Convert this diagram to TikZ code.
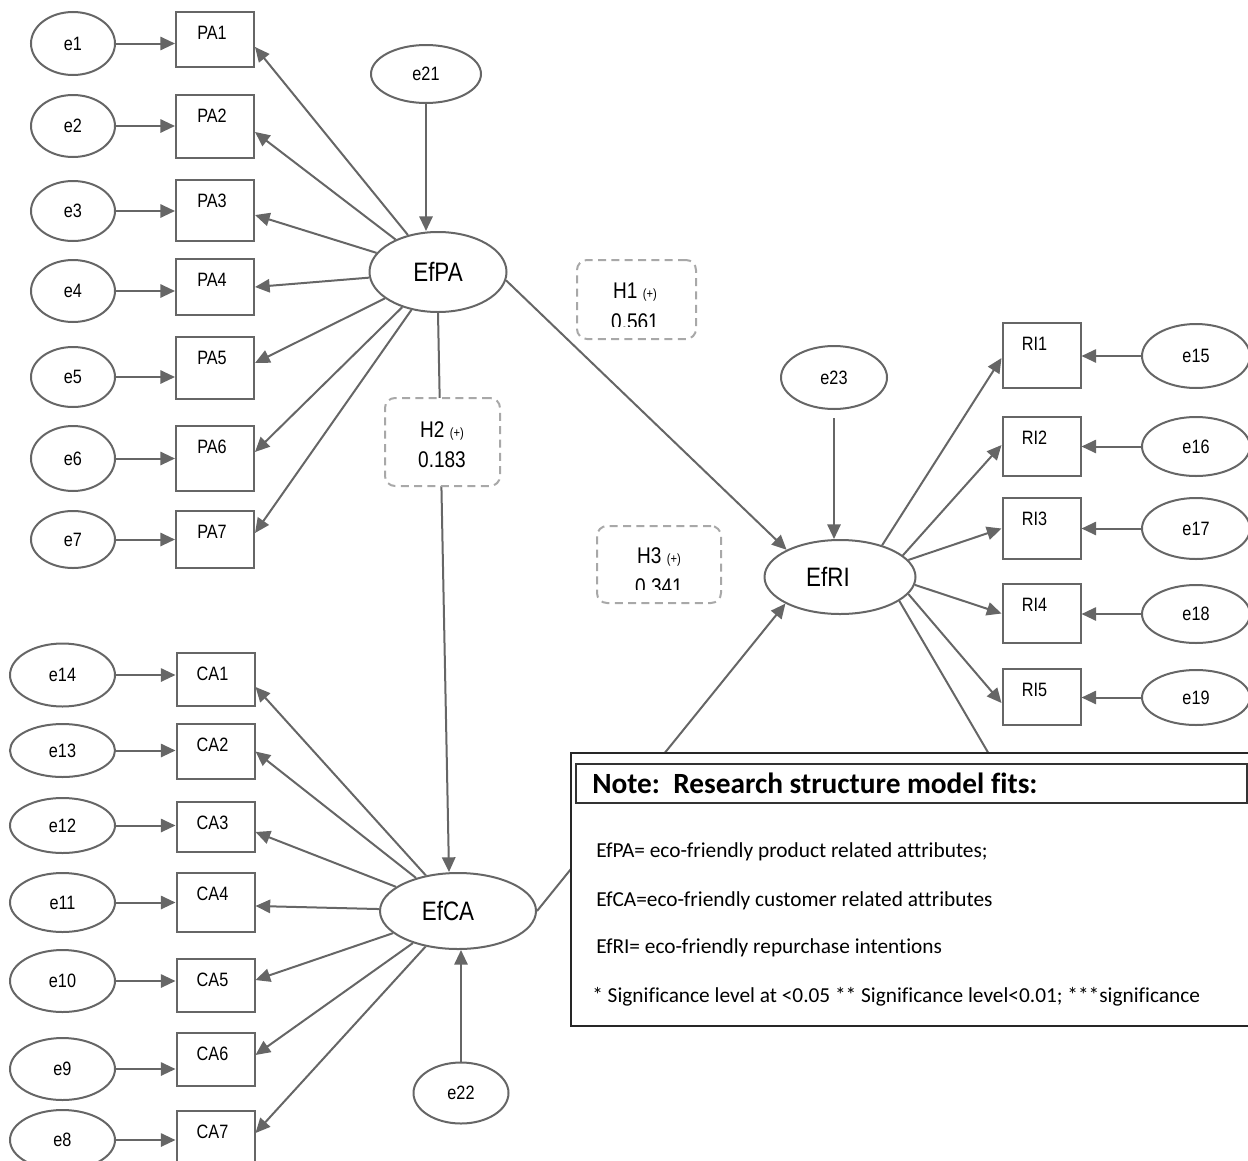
\documentclass[tikz,border=0pt]{standalone}
\usepackage{fontspec}
\setmainfont{Liberation Sans}
\newfontfamily\narrowfont[FakeStretch=0.84]{Liberation Sans}
\newfontfamily\notefont[Ligatures=CommonOff]{Carlito}
\usetikzlibrary{arrows.meta,shapes.geometric}
\definecolor{semgray}{HTML}{666666}
\definecolor{hypgray}{HTML}{A8A8A8}
\tikzset{
  itembox/.style={draw=semgray, line width=1.5pt, minimum width=58.5pt, inner sep=0pt},
  itemtext/.style={anchor=center, yshift=-16.5pt, xshift=-2.25pt, font=\narrowfont\fontsize{14.5}{16}\selectfont},
  errnode/.style={ellipse, draw=semgray, line width=1.5pt, inner sep=0pt, font=\narrowfont\fontsize{14.5}{16}\selectfont},
  latent/.style={ellipse, draw=semgray, line width=1.5pt, inner sep=0pt, font=\narrowfont\fontsize{20}{22}\selectfont},
  arr/.style={draw=semgray, line width=1.5pt, -{Triangle[length=11pt,width=10pt]}},
  plainline/.style={draw=semgray, line width=1.5pt},
  hypbox/.style={draw=hypgray, line width=1.5pt, dash pattern=on 6pt off 4pt, rounded corners=7.5pt, fill=white, inner sep=0pt},
  hyptext/.style={anchor=base, font=\narrowfont\fontsize{17}{19}\selectfont},
  notetext/.style={anchor=base west, inner sep=0pt, font=\notefont\fontsize{16}{18}\selectfont}
}
\begin{document}
\begin{tikzpicture}[x=0.75pt, y=-0.75pt]
\useasboundingbox (0,0) rectangle (1248,1160);

% constructs
\node[latent, minimum width=102.75pt, minimum height=60pt] (EfPA) at (438,272) {EfPA};
\node[latent, minimum width=117pt, minimum height=57pt] (EfCA) at (458,911) {EfCA\kern15pt};
\node[latent, minimum width=113.25pt, minimum height=55.5pt] (EfRI) at (840,577) {EfRI\kern18pt};

\node[errnode, minimum width=82.5pt, minimum height=43.5pt] (e21) at (426,74) {e21};
\node[errnode, minimum width=71.25pt, minimum height=45.75pt] (e22) at (461,1093) {e22};
\node[errnode, minimum width=79.5pt, minimum height=47.25pt] (e23) at (834,377.5) {e23};

% indicators
\foreach \i/\y/\h in {1/39.5/55, 2/126.5/63, 3/210.5/61, 4/287/56, 5/368/62, 6/458.5/65, 7/539.5/57}
  \node[itembox, minimum height=\h*0.75pt, label={[itemtext]north:PA\i}] (PA\i) at (215,\y) {};
\foreach \i/\y/\h in {1/43.5/63, 2/126/62, 3/211/60, 4/291/62, 5/377/60, 6/458.5/65, 7/539.5/57}
  \node[errnode, minimum width=63pt, minimum height=\h*0.75pt] (e\i) at (73,\y) {e\i};

\foreach \i/\y/\h in {1/679.5/53, 2/751.5/55, 3/827/50, 4/902.5/59, 5/985.5/53, 6/1059.5/53, 7/1138/54}
  \node[itembox, minimum height=\h*0.75pt, label={[itemtext]north:CA\i}] (CA\i) at (215.5,\y) {};
\foreach \n/\y/\h in {14/675/63, 13/750.5/53, 12/825.5/55, 11/902.5/59, 10/981/62, 9/1069/62, 8/1140/60}
  \node[errnode, minimum width=78.75pt, minimum height=\h*0.75pt] (e\n) at (62.5,\y) {e\n};

\foreach \i/\y/\h in {1/355.5/65, 2/446.5/59, 3/528.5/61, 4/613.5/59, 5/697/56}
  \node[itembox, minimum height=\h*0.75pt, label={[itemtext, xshift=-3pt]north:RI\i}] (RI\i) at (1041.5,\y) {};
\foreach \n/\y/\h in {15/356/64, 16/446.5/59, 17/528.5/61, 18/614/58, 19/697.5/55}
  \node[errnode, minimum width=81pt, minimum height=\h*0.75pt] (e\n) at (1196,\y) {e\n};

% error terms
\foreach \i in {1,...,7}
  \draw[arr] (e\i) -- (e\i -| PA\i.west);
\foreach \n/\i in {14/1, 13/2, 12/3, 11/4, 10/5, 9/6, 8/7}
  \draw[arr] (e\n) -- (e\n -| CA\i.west);
\foreach \n/\i in {15/1, 16/2, 17/3, 18/4, 19/5}
  \draw[arr] (e\n) -- (e\n -| RI\i.east);
\draw[arr] (e21) -- (e21 |- EfPA.north);
\draw[arr] (e22) -- (e22 |- EfCA.south);
\draw[arr, shorten <=6pt] (e23) -- (e23 |- EfRI.north);

% loadings
\foreach \i/\d in {1/-5.6pt, 2/-4.1pt, 3/-3.4pt, 4/0pt, 5/3.75pt, 6/4.9pt, 7/4.9pt}
  \draw[arr] (EfPA) -- ([yshift=\d]PA\i.east);
\foreach \i/\d in {1/-5.6pt, 2/0pt, 3/-3.75pt, 4/-2.6pt, 5/4.1pt, 6/3.4pt, 7/3.75pt}
  \draw[arr] (EfCA) -- ([yshift=\d]CA\i.east);
\foreach \i/\a/\d in {1/37/-1.9pt, 2/19/1.1pt, 3/14/0pt, 4/-6/0pt, 5/-14/-4.5pt}
  \draw[arr] (EfRI.\a) -- ([yshift=\d]RI\i.west);
\coordinate (RIhidden) at (1010,790);
\draw[plainline] (EfRI.-22) -- (RIhidden);

% structural paths
\draw[arr] (EfPA.south) -- ([xshift=-6.75pt]EfCA.north);
\draw[arr] (EfPA.-7) -- (EfRI.153);
\draw[arr] (EfCA.east) -- (EfRI.206);

% hypotheses
\node[hypbox, minimum width=89.25pt, minimum height=59.25pt] (H1) at (636.5,299.5) {};
\node[hypbox, minimum width=86.25pt, minimum height=66pt] (H2) at (442.5,442) {};
\node[hypbox, minimum width=93pt, minimum height=57.75pt] (H3) at (659,564.5) {};
\node[hyptext] (H1a) at (635,298) {H1 {\fontsize{10}{11}\selectfont(+)}};
\node[hyptext] (H2a) at (442,437) {H2 {\fontsize{10}{11}\selectfont(+)}};
\node[hyptext] (H2b) at (442,467) {0.183};
\node[hyptext] (H3a) at (659,563) {H3 {\fontsize{10}{11}\selectfont(+)}};
\begin{scope}
  \clip (H1.north west) rectangle ([yshift=10.5pt]H1.south east);
  \node[hyptext] (H1b) at (635,329) {0.561};
\end{scope}
\begin{scope}
  \clip (H3.north west) rectangle ([yshift=11.25pt]H3.south east);
  \node[hyptext] (H3b) at (659,594) {0.341};
\end{scope}

% note
\node[draw=black!85, fill=white, line width=1.5pt, minimum width=518.25pt, minimum height=204.75pt, inner sep=0pt] (note) at (916.5,889.5) {};
\node[draw=black!80, line width=1pt, minimum width=503.25pt, minimum height=29.25pt, inner sep=0pt] (notehead) at (911.5,783.5) {};
\node[anchor=base west, inner sep=0pt, font=\notefont\bfseries\fontsize{22}{24}\selectfont] (notetitle) at (592,793) {Note:\ \ Research structure model fits:};
\node[notetext] (def1) at (596,857) {EfPA= eco-friendly product related attributes;};
\node[notetext] (def2) at (596,906) {EfCA=eco-friendly customer related attributes};
\node[notetext] (def3) at (596,953) {EfRI= eco-friendly repurchase intentions};
\node[notetext] (def4) at (592,1002) {* Significance level at <0.05 ** Significance level<0.01; ***significance};
\end{tikzpicture}
\end{document}
